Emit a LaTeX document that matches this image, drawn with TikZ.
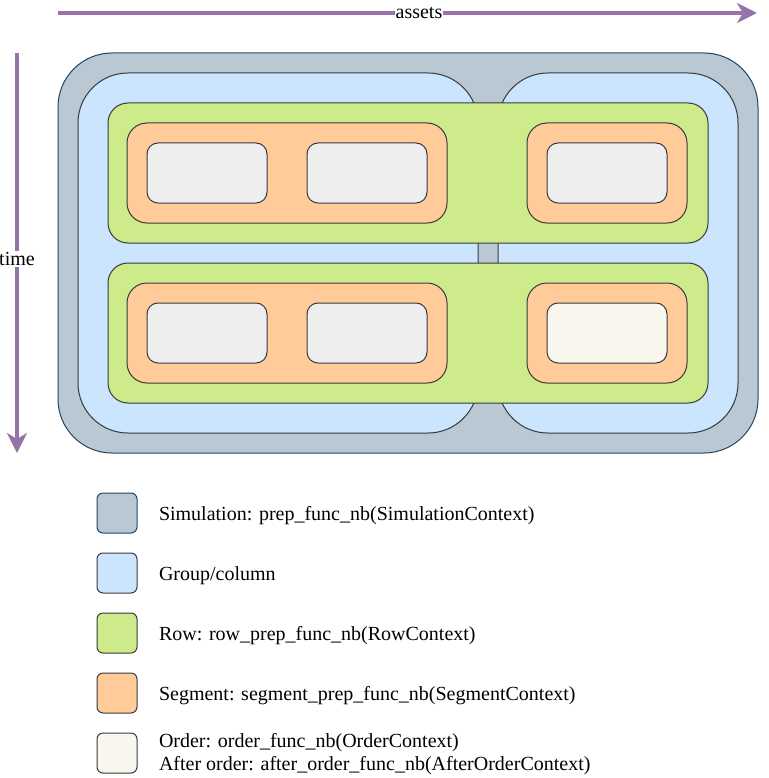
\documentclass[tikz,border=0pt]{standalone}
\usepackage{fontspec}
\setmainfont{Liberation Serif}
\usetikzlibrary{arrows.meta}
\definecolor{simfill}{HTML}{BAC8D3}
\definecolor{simline}{HTML}{23445D}
\definecolor{grpfill}{HTML}{CCE5FF}
\definecolor{rowfill}{HTML}{CDEB8B}
\definecolor{segfill}{HTML}{FFCC99}
\definecolor{ordfill}{HTML}{EEEEEE}
\definecolor{aftfill}{HTML}{F9F7ED}
\definecolor{boxline}{HTML}{36393D}
\definecolor{axis}{HTML}{9673A6}
\tikzset{
  every node/.style={inner sep=0pt, outer sep=0pt},
  box/.style={draw=boxline, line width=1pt},
  simbox/.style={box, draw=simline, fill=simfill, rounded corners=54pt},
  grpbox/.style={box, fill=grpfill, rounded corners=50pt},
  rowbox/.style={box, fill=rowfill, rounded corners=20pt},
  segbox/.style={box, fill=segfill, rounded corners=20pt},
  ordbox/.style={box, fill=ordfill, rounded corners=11pt},
  aftbox/.style={box, fill=aftfill, rounded corners=11pt},
  axisline/.style={draw=axis, line width=4pt, -{Stealth[length=20pt,width=20pt,inset=6pt]}},
  axislabel/.style={fill=white, inner sep=1pt, font=\fontsize{20}{23}\selectfont},
  legtext/.style={anchor=west, align=left, font=\fontsize{20}{23}\selectfont},
}
\newcommand{\rbox}[6]{\node[#1, minimum width=#4pt, minimum height=#5pt] (#6) at (#2,#3) {};}
\begin{document}
\begin{tikzpicture}[x=1pt,y=-1pt]
\useasboundingbox (0,0) rectangle (768,778);
% axes
\coordinate (aL) at (58,13);
\coordinate (aR) at (757,13);
\draw[axisline] (aL) -- (aR);
\node[axislabel] (assets) at (419,13) {assets};
\coordinate (tT) at (17,53);
\coordinate (tB) at (17,453);
\draw[axisline] (tT) -- (tB);
\node[axislabel] (time) at (17,259) {time};
% simulation
\rbox{simbox}{408}{253}{700}{400}{sim}
\rbox{grpbox}{278}{253}{400}{360}{gL}
\rbox{grpbox}{618}{253}{240}{360}{gR}
% rows
\rbox{rowbox}{408}{173}{600}{140}{rowA}
\rbox{rowbox}{408}{333}{600}{140}{rowB}
% segments
\rbox{segbox}{287}{173}{320}{100}{segA1}
\rbox{segbox}{607}{173}{160}{100}{segA2}
\rbox{segbox}{287}{333}{320}{100}{segB1}
\rbox{segbox}{607}{333}{160}{100}{segB2}
% orders
\rbox{ordbox}{207}{173}{120}{60}{oA1}
\rbox{ordbox}{367}{173}{120}{60}{oA2}
\rbox{ordbox}{607}{173}{120}{60}{oA3}
\rbox{ordbox}{207}{333}{120}{60}{oB1}
\rbox{ordbox}{367}{333}{120}{60}{oB2}
\rbox{aftbox}{607}{333}{120}{60}{oB3}
% legend
\tikzset{legbox/.style={rounded corners=6pt}}
\rbox{simbox,legbox}{117}{513}{40}{40}{lg1}
\rbox{grpbox,legbox}{117}{573}{40}{40}{lg2}
\rbox{rowbox,legbox}{117}{633}{40}{40}{lg3}
\rbox{segbox,legbox}{117}{693}{40}{40}{lg4}
\rbox{aftbox,legbox}{117}{753}{40}{40}{lg5}
\node[legtext] (lt1) at (159,516) {Simulation: prep\_func\_nb(SimulationContext)};
\node[legtext] (lt2) at (159,576) {Group/column};
\node[legtext] (lt3) at (159,636) {Row: row\_prep\_func\_nb(RowContext)};
\node[legtext] (lt4) at (159,696) {Segment: segment\_prep\_func\_nb(SegmentContext)};
\node[legtext] (lt5) at (159,754) {Order: order\_func\_nb(OrderContext)\\After order: after\_order\_func\_nb(AfterOrderContext)};
\end{tikzpicture}
\end{document}
